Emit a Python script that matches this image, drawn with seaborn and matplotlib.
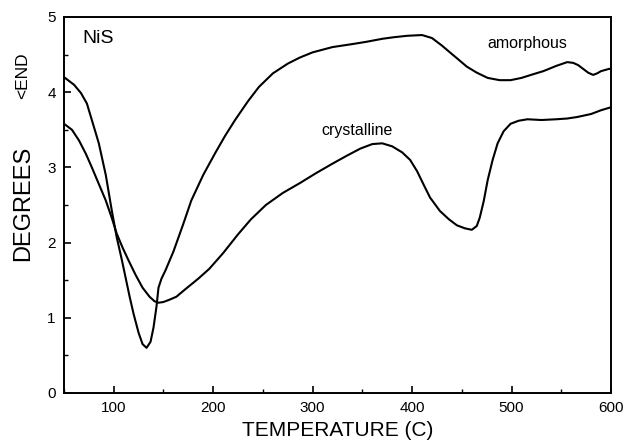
import numpy as np
import pandas as pd
import matplotlib
matplotlib.use("Agg")
import matplotlib.pyplot as plt
import seaborn as sns
from matplotlib.ticker import MultipleLocator

amorphous_x = [50, 60, 67, 73, 78, 85, 92, 98, 103, 108, 112, 116, 120, 125, 129, 133, 137, 140, 143, 145,
               148, 152, 160, 170, 178, 190, 202, 212, 222, 235, 246, 260, 275, 287, 300, 320, 340, 354,
               370, 381, 395, 410, 420, 430, 438, 447, 455, 465, 476, 488, 499, 510, 522, 532, 545, 556,
               562, 567, 571, 577, 582, 586, 590, 598, 600]
amorphous_y = [4.20, 4.10, 3.99, 3.85, 3.63, 3.32, 2.90, 2.43, 2.07, 1.78, 1.53, 1.28, 1.05, 0.80, 0.65, 0.60,
               0.68, 0.87, 1.15, 1.40, 1.52, 1.63, 1.88, 2.25, 2.56, 2.90, 3.19, 3.42, 3.63, 3.88, 4.07, 4.25,
               4.38, 4.46, 4.53, 4.60, 4.64, 4.67, 4.71, 4.73, 4.75, 4.76, 4.72, 4.62, 4.53, 4.43, 4.34, 4.26,
               4.19, 4.16, 4.16, 4.19, 4.24, 4.28, 4.35, 4.40, 4.39, 4.36, 4.32, 4.26, 4.23, 4.25, 4.28, 4.31, 4.31]

crystalline_x = [50, 58, 65, 72, 78, 85, 92, 98, 103, 109, 115, 122, 129, 136, 141, 145, 150, 156, 163, 172,
                 185, 196, 210, 225, 238, 253, 270, 287, 303, 320, 335, 348, 360, 370, 380, 390, 398, 405,
                 412, 418, 428, 437, 445, 453, 460, 465, 468, 472, 476, 481, 486, 492, 499, 507, 516, 530,
                 545, 556, 566, 580, 590, 600]
crystalline_y = [3.58, 3.50, 3.36, 3.18, 3.00, 2.78, 2.56, 2.33, 2.12, 1.93, 1.76, 1.57, 1.40, 1.28, 1.22, 1.20,
                 1.21, 1.24, 1.28, 1.38, 1.52, 1.65, 1.86, 2.11, 2.31, 2.50, 2.66, 2.79, 2.92, 3.05, 3.16, 3.25,
                 3.31, 3.32, 3.28, 3.20, 3.10, 2.95, 2.76, 2.60, 2.42, 2.31, 2.23, 2.19, 2.17, 2.22, 2.33, 2.55,
                 2.83, 3.10, 3.32, 3.48, 3.58, 3.62, 3.64, 3.63, 3.64, 3.65, 3.67, 3.71, 3.76, 3.80]

x_ticks = [100, 200, 300, 400, 500, 600]
y_ticks = [0, 1, 2, 3, 4, 5]

sns.set_theme(style="ticks")
plt.rcParams['font.family'] = ['Liberation Sans', 'DejaVu Sans']
plt.rcParams['text.color'] = 'black'
plt.rcParams['axes.labelcolor'] = 'black'

df = pd.concat([
    pd.DataFrame({"T": amorphous_x, "deg": amorphous_y, "phase": "amorphous"}),
    pd.DataFrame({"T": crystalline_x, "deg": crystalline_y, "phase": "crystalline"}),
])

fig = plt.figure(figsize=(6.25, 4.45), dpi=100)
ax = fig.add_axes([0.1024, 0.1169, 0.8752, 0.8449])
sns.lineplot(data=df, x="T", y="deg", units="phase", estimator=None, sort=False,
             color="black", linewidth=1.5, ax=ax, legend=False)

ax.set_xlim(50, 600)
ax.set_ylim(0, 5)
ax.set_xticks(x_ticks)
ax.set_yticks(y_ticks)
ax.xaxis.set_minor_locator(MultipleLocator(50))
ax.yaxis.set_minor_locator(MultipleLocator(0.5))
ax.tick_params(which="major", direction="in", length=5, width=1.2, labelsize=11, colors="black", pad=6)
ax.tick_params(which="minor", direction="in", length=3, width=1.0, colors="black")
for s in ax.spines.values():
    s.set_linewidth(1.4)
    s.set_color("black")

ax.set_xlabel("TEMPERATURE (C)", fontsize=15, labelpad=4, color="black")
ax.set_ylabel("")
fig.text(0.037, 0.544, "DEGREES", rotation=90, fontsize=17, ha="center", va="center", color="black")
fig.text(0.036, 0.831, "<END", rotation=90, fontsize=12.5, ha="center", va="center", color="black")

ax.text(68, 4.72, "NiS", fontsize=14, ha="left", va="center", color="black")
ax.text(516, 4.65, "amorphous", fontsize=11.5, ha="center", va="center", color="black")
ax.text(345, 3.49, "crystalline", fontsize=11.5, ha="center", va="center", color="black")

fig.savefig("out.png", dpi=100)
